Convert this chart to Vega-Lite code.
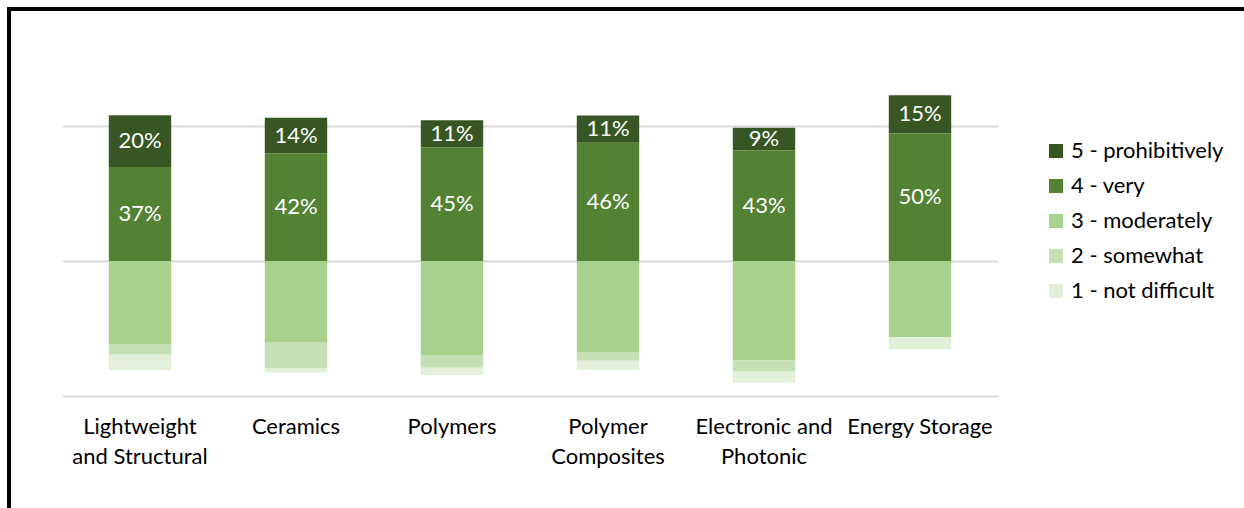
{
  "$schema": "https://vega.github.io/schema/vega-lite/v6.json",
  "width": 1250,
  "height": 514,
  "autosize": {"type": "none"},
  "padding": {"left": 9, "top": 9, "right": -15, "bottom": -15},
  "background": "white",
  "config": {
    "font": "Lato",
    "view": {"stroke": "black", "strokeWidth": 4}
  },
  "data": {
    "values": [
      {"cat": "Lightweight and Structural", "level": "5 - prohibitively", "v": 0.203},
      {"cat": "Lightweight and Structural", "level": "4 - very", "v": 0.369},
      {"cat": "Lightweight and Structural", "level": "3 - moderately", "v": -0.326},
      {"cat": "Lightweight and Structural", "level": "2 - somewhat", "v": -0.042},
      {"cat": "Lightweight and Structural", "level": "1 - not difficult", "v": -0.06},
      {"cat": "Ceramics", "level": "5 - prohibitively", "v": 0.139},
      {"cat": "Ceramics", "level": "4 - very", "v": 0.423},
      {"cat": "Ceramics", "level": "3 - moderately", "v": -0.318},
      {"cat": "Ceramics", "level": "2 - somewhat", "v": -0.102},
      {"cat": "Ceramics", "level": "1 - not difficult", "v": -0.018},
      {"cat": "Polymers", "level": "5 - prohibitively", "v": 0.107},
      {"cat": "Polymers", "level": "4 - very", "v": 0.446},
      {"cat": "Polymers", "level": "3 - moderately", "v": -0.369},
      {"cat": "Polymers", "level": "2 - somewhat", "v": -0.05},
      {"cat": "Polymers", "level": "1 - not difficult", "v": -0.029},
      {"cat": "Polymer Composites", "level": "5 - prohibitively", "v": 0.107},
      {"cat": "Polymer Composites", "level": "4 - very", "v": 0.464},
      {"cat": "Polymer Composites", "level": "3 - moderately", "v": -0.357},
      {"cat": "Polymer Composites", "level": "2 - somewhat", "v": -0.035},
      {"cat": "Polymer Composites", "level": "1 - not difficult", "v": -0.035},
      {"cat": "Electronic and Photonic", "level": "5 - prohibitively", "v": 0.089},
      {"cat": "Electronic and Photonic", "level": "4 - very", "v": 0.434},
      {"cat": "Electronic and Photonic", "level": "3 - moderately", "v": -0.391},
      {"cat": "Electronic and Photonic", "level": "2 - somewhat", "v": -0.044},
      {"cat": "Electronic and Photonic", "level": "1 - not difficult", "v": -0.042},
      {"cat": "Energy Storage", "level": "5 - prohibitively", "v": 0.15},
      {"cat": "Energy Storage", "level": "4 - very", "v": 0.501},
      {"cat": "Energy Storage", "level": "3 - moderately", "v": -0.299},
      {"cat": "Energy Storage", "level": "2 - somewhat", "v": 0},
      {"cat": "Energy Storage", "level": "1 - not difficult", "v": -0.047}
    ]
  },
  "encoding": {
    "x": {
      "field": "cat",
      "type": "nominal",
      "sort": null,
      "scale": {"range": [53, 989], "paddingInner": 0.6, "paddingOuter": 0.3},
      "axis": {
        "title": null,
        "orient": "bottom",
        "offset": -127,
        "domain": false,
        "ticks": false,
        "grid": false,
        "labelAngle": 0,
        "labelPadding": 20,
        "labelFontSize": 22,
        "labelColor": "#000000",
        "labelLineHeight": 30,
        "labelLimit": 300,
        "labelExpr": "datum.value == 'Lightweight and Structural' ? ['Lightweight', 'and Structural'] : datum.value == 'Polymer Composites' ? ['Polymer', 'Composites'] : datum.value == 'Electronic and Photonic' ? ['Electronic and', 'Photonic'] : datum.label"
      }
    }
  },
  "layer": [
    {
      "transform": [{"filter": {"field": "level", "oneOf": ["5 - prohibitively", "4 - very"]}}],
      "mark": {"type": "bar", "strokeWidth": 0},
      "encoding": {
        "y": {
          "field": "v",
          "type": "quantitative",
          "stack": "zero",
          "scale": {"domain": [-0.53, 0.53], "range": [387, 117], "nice": false, "zero": false},
          "axis": {"title": null, "values": [-0.53, 0, 0.53], "grid": true, "gridColor": "#d9d9d9", "gridWidth": 2, "labels": false, "ticks": false, "domain": false}
        },
        "order": {"field": "level", "sort": "ascending"},
        "color": {
          "field": "level",
          "type": "nominal",
          "scale": {
            "domain": ["5 - prohibitively", "4 - very", "3 - moderately", "2 - somewhat", "1 - not difficult"],
            "range": ["#375623", "#548235", "#a9d18e", "#c5e0b4", "#e2f0d9"]
          },
          "legend": {
            "title": null,
            "orient": "none",
            "legendX": 1036,
            "legendY": 131,
            "symbolType": "square",
            "symbolSize": 196,
            "symbolStrokeWidth": 0,
            "labelFontSize": 22,
            "labelColor": "#000000",
            "labelOffset": 4,
            "rowPadding": 13,
            "padding": 0
          }
        }
      }
    },
    {
      "transform": [{"filter": {"field": "level", "oneOf": ["3 - moderately", "2 - somewhat", "1 - not difficult"]}}],
      "mark": {"type": "bar", "strokeWidth": 0},
      "encoding": {
        "y": {"field": "v", "type": "quantitative", "stack": "zero"},
        "order": {"field": "level", "sort": "descending"},
        "color": {"field": "level", "type": "nominal"}
      }
    },
    {
      "transform": [
        {"filter": {"field": "level", "oneOf": ["5 - prohibitively", "4 - very"]}},
        {"stack": "v", "groupby": ["cat"], "sort": [{"field": "level", "order": "ascending"}], "as": ["v0", "v1"]},
        {"calculate": "(datum.v0 + datum.v1) / 2", "as": "mid"}
      ],
      "mark": {"type": "text", "color": "white", "fontSize": 22, "baseline": "middle", "align": "center"},
      "encoding": {
        "y": {"field": "mid", "type": "quantitative"},
        "text": {"field": "v", "type": "quantitative", "format": ".0%"}
      }
    }
  ]
}
